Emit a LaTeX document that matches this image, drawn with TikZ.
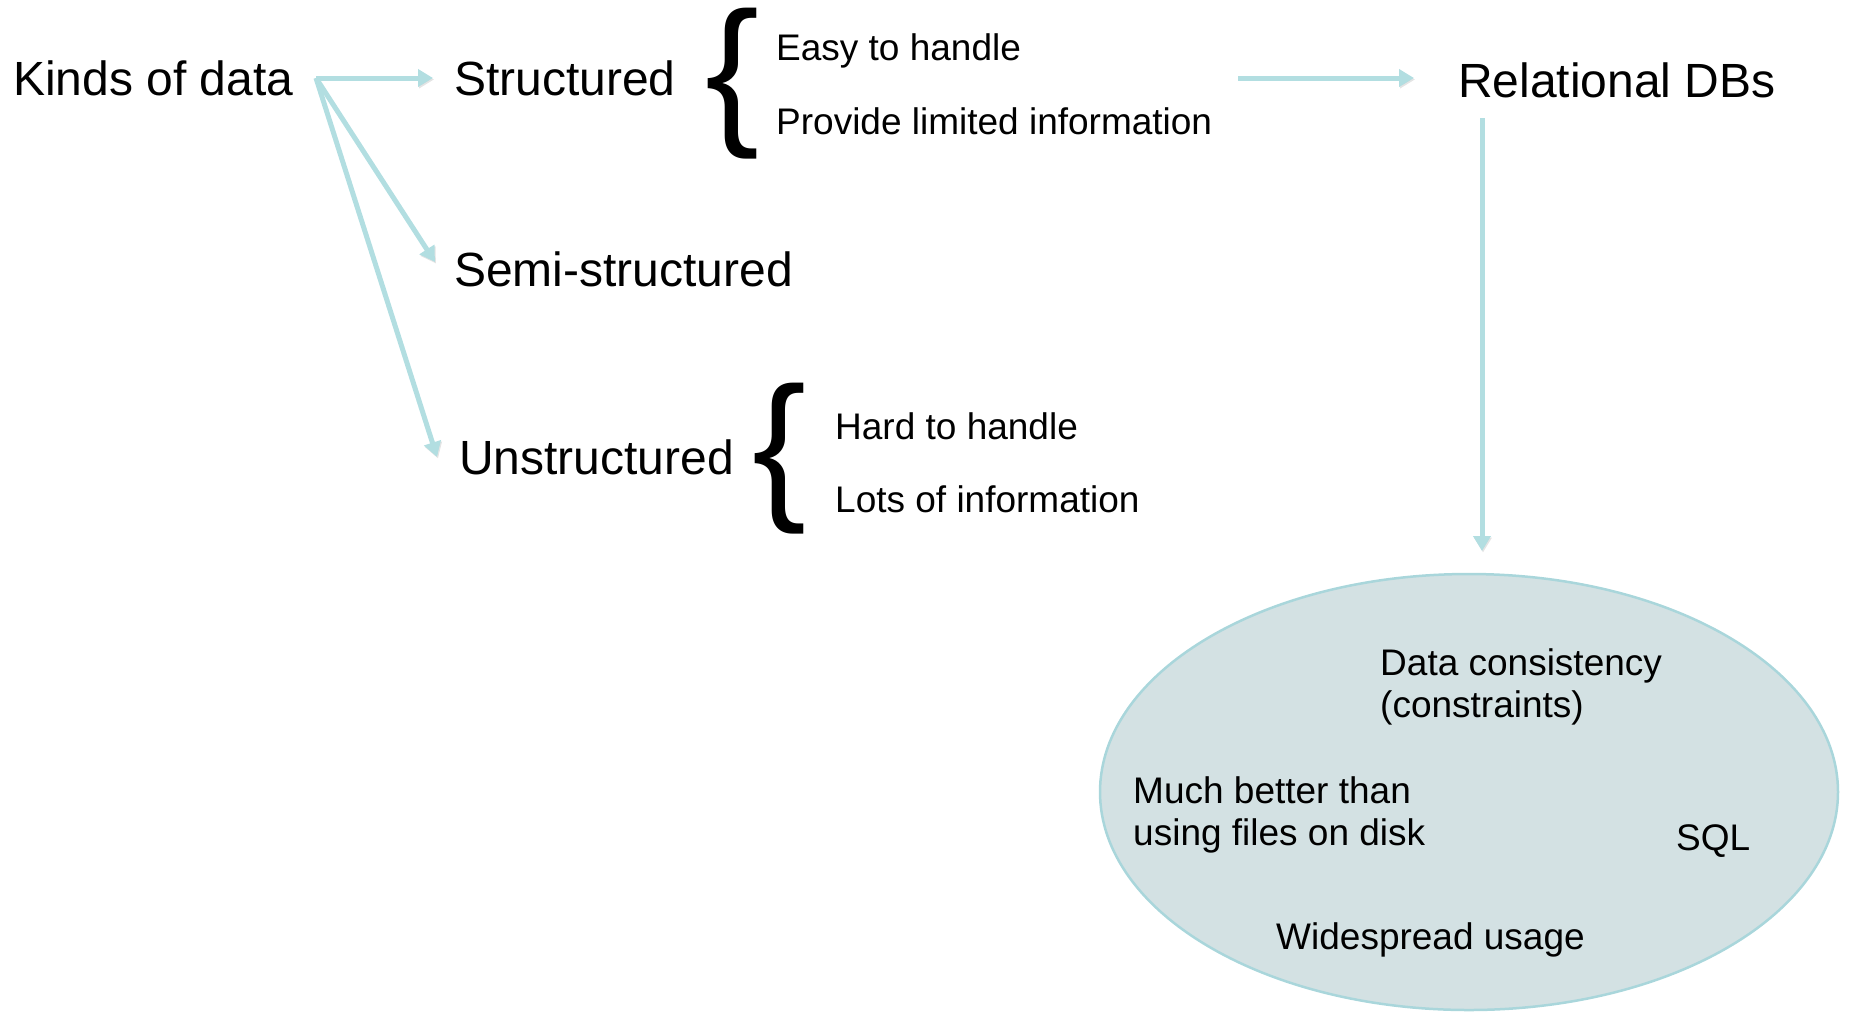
\documentclass[tikz,border=0pt]{standalone}
\usepackage{fontspec}
\setmainfont{Liberation Sans}
\usetikzlibrary{arrows.meta,shapes.geometric}
\definecolor{arrowc}{HTML}{B2DEE1}
\definecolor{ovalfill}{HTML}{D3E1E3}
\definecolor{ovaledge}{HTML}{A9D6DB}
\tikzset{
  big/.style={inner sep=0pt, anchor=base west, font=\fontsize{48}{53}\selectfont},
  item/.style={inner sep=0pt, anchor=base west, font=\fontsize{37}{42}\selectfont},
  oval text/.style={inner sep=0pt, anchor=base west, align=left, font=\fontsize{37}{42}\selectfont},
  bracket/.style={inner sep=0pt, anchor=base west, font=\fontsize{162}{162}\selectfont},
  link/.style={draw=arrowc, line width=5pt, -{Triangle[length=15pt,width=17pt]},
    preaction={draw=black!30, opacity=0.35, transform canvas={shift={(1pt,-1.5pt)}}}}
}
\begin{document}
\begin{tikzpicture}[x=1pt, y=-1pt]
\useasboundingbox (0,0) rectangle (1849,1013);

% left column
\node[big] (kinds) at (13,95) {Kinds of data};
\node[big] (struct) at (454,95) {Structured};
\node[big] (semi) at (454,286) {Semi-structured};
\node[big] (unstruct) at (459,474) {Unstructured};

% structured: properties
\node[bracket] (brace1) at (705,125) {\{};
\node[item] (easy) at (776,60) {Easy to handle};
\node[item] (limited) at (776,134) {Provide limited information};

% unstructured: properties
\node[bracket] (brace2) at (752,500) {\{};
\node[item] (hard) at (835,439) {Hard to handle};
\node[item] (lots) at (835,512) {Lots of information};

% relational databases
\node[draw=ovaledge, line width=2.5pt, fill=ovalfill, ellipse, minimum width=738pt, minimum height=436pt, inner sep=0pt] (oval) at (1469,792) {};
\node[big] (rdb) at (1458,97) {Relational DBs};
\node[oval text] (consist) at (1380,717) {Data consistency\\(constraints)};
\node[oval text] (better) at (1133,845) {Much better than\\using files on disk};
\node[oval text] (sql) at (1676,850) {SQL};
\node[oval text] (usage) at (1276,949) {Widespread usage};

% connectors
\coordinate (fork) at (316,78);
\coordinate (toStruct) at (433,78);
\coordinate (toSemi) at (435,262);
\coordinate (toUnstruct) at (437,457);
\coordinate (fromStruct) at (1238,78);
\coordinate (toRdb) at (1414,78);
\coordinate (fromRdb) at (1482,118);
\coordinate (toOval) at (1482,551);
\draw[link] (fork) -- (toStruct);
\draw[link] (fork) -- (toSemi);
\draw[link] (fork) -- (toUnstruct);
\draw[link] (fromStruct) -- (toRdb);
\draw[link] (fromRdb) -- (toOval);
\end{tikzpicture}
\end{document}
